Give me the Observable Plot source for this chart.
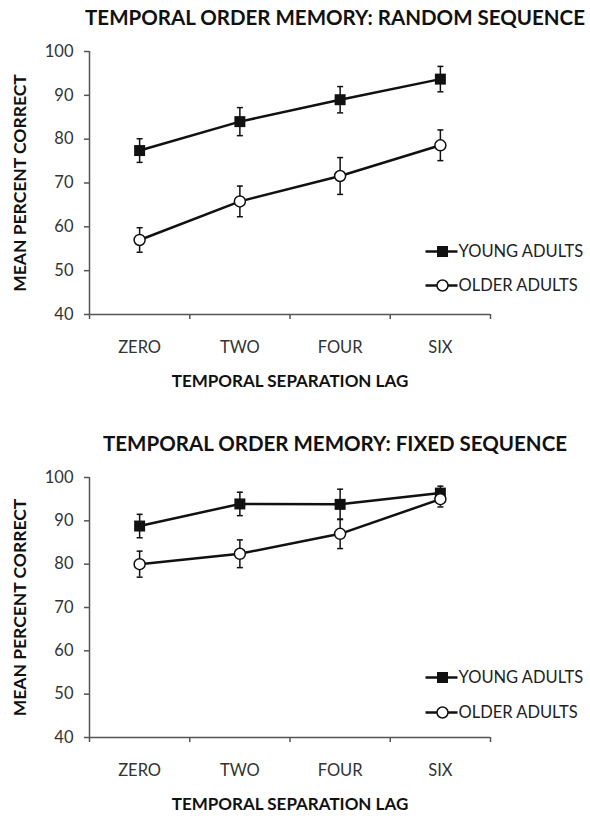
<!DOCTYPE html>
<html><head><meta charset="utf-8">
<script src="https://cdn.jsdelivr.net/npm/d3@7"></script>
<script src="https://cdn.jsdelivr.net/npm/@observablehq/plot@0.6"></script>
<style>
html,body{margin:0;padding:0;background:#fff;}
#wrap{width:590px;}
svg{display:block;font-family:Lato,"Open Sans",sans-serif;}
</style></head>
<body><div id="wrap"></div>
<script>
const lags = ["ZERO", "TWO", "FOUR", "SIX"];
const yTicks = [40, 50, 60, 70, 80, 90, 100];
const groups = ["YOUNG ADULTS", "OLDER ADULTS"];

const randomYoung = [77.4, 84.0, 89.0, 93.7];
const randomYoungErr = [2.7, 3.2, 3.0, 2.9];
const randomOlder = [57.0, 65.8, 71.6, 78.6];
const randomOlderErr = [2.8, 3.5, 4.2, 3.5];

const fixedYoung = [88.8, 93.9, 93.8, 96.4];
const fixedYoungErr = [2.7, 2.7, 3.5, 1.6];
const fixedOlder = [80.0, 82.4, 87.0, 95.0];
const fixedOlderErr = [3.0, 3.2, 3.4, 1.8];

const titles = ["TEMPORAL ORDER MEMORY: RANDOM SEQUENCE", "TEMPORAL ORDER MEMORY: FIXED SEQUENCE"];
const xTitle = "TEMPORAL SEPARATION LAG";
const yTitle = "MEAN PERCENT CORRECT";

function hLine(halfWidth) {
  return {draw(ctx) { ctx.moveTo(-halfWidth, 0); ctx.lineTo(halfWidth, 0); }};
}
const capSymbol = hLine(3);
const legendLine = hLine(16);

function rows(young, youngErr, older, olderErr) {
  const out = [];
  lags.forEach((lag, i) => {
    out.push({lag, i, group: groups[0], value: young[i], err: youngErr[i]});
    out.push({lag, i, group: groups[1], value: older[i], err: olderErr[i]});
  });
  return out;
}

function chart(title, data, m) {
  const xv = d => d.i + 0.5;
  const young = data.filter(d => d.group === groups[0]);
  const older = data.filter(d => d.group === groups[1]);
  const axisColor = "#555";
  return Plot.plot({
    width: 590,
    height: 408,
    marginLeft: 89,
    marginRight: 100,
    marginTop: m.top,
    marginBottom: m.bottom,
    style: {fontFamily: "Lato, 'Open Sans', sans-serif", color: "#333", background: "#fff"},
    x: {domain: [0, 4]},
    y: {domain: [40, 100]},
    marks: [
      Plot.ruleX([0], {stroke: axisColor, strokeWidth: 1.5}),
      Plot.ruleY([40], {stroke: axisColor, strokeWidth: 1.5}),
      Plot.axisY({ticks: yTicks, tickSize: 5, tickPadding: 11, fontSize: 16.5, label: null, stroke: axisColor, strokeWidth: 1.5}),
      Plot.axisX({ticks: [0, 1, 2, 3, 4], tickFormat: () => "", tickSize: 5, label: null, stroke: axisColor, strokeWidth: 1.5}),
      Plot.axisX({ticks: lags.map((_, i) => i + 0.5), tickFormat: v => lags[Math.round(v - 0.5)], tickSize: 0, tickPadding: 27, fontSize: 16.5, label: null}),
      Plot.text([title], {frameAnchor: "top", lineAnchor: "middle", dy: m.titleDy, dx: 45, fontSize: 20.5, fontWeight: "bold", fill: "#111"}),
      Plot.text([xTitle], {frameAnchor: "bottom", lineAnchor: "middle", dy: m.xTitleDy, fontSize: 17, fontWeight: "bold", fill: "#111"}),
      Plot.text([yTitle], {frameAnchor: "left", lineAnchor: "middle", dx: -69, rotate: -90, textAnchor: "middle", fontSize: 17.5, fontWeight: "bold", fill: "#111"}),
      Plot.ruleX(data, {x: xv, y1: d => d.value - d.err, y2: d => d.value + d.err, stroke: "#111", strokeWidth: 1.5}),
      Plot.dot(data, {x: xv, y: d => d.value - d.err, symbol: capSymbol, stroke: "#111", strokeWidth: 1.5, fill: "none"}),
      Plot.dot(data, {x: xv, y: d => d.value + d.err, symbol: capSymbol, stroke: "#111", strokeWidth: 1.5, fill: "none"}),
      Plot.line(data, {x: xv, y: "value", z: "group", stroke: "#111", strokeWidth: 2.5}),
      Plot.dot(young, {x: xv, y: "value", symbol: "square", r: 6.2, fill: "#111", stroke: "none"}),
      Plot.dot(older, {x: xv, y: "value", symbol: "circle", r: 5.5, fill: "#fff", stroke: "#111", strokeWidth: 1.5}),
      // legend
      Plot.dot([groups[0]], {frameAnchor: "bottom-right", dx: -49, dy: m.legDy1, symbol: legendLine, stroke: "#111", strokeWidth: 2.5, fill: "none"}),
      Plot.dot([groups[1]], {frameAnchor: "bottom-right", dx: -49, dy: m.legDy2, symbol: legendLine, stroke: "#111", strokeWidth: 2.5, fill: "none"}),
      Plot.dot([groups[0]], {frameAnchor: "bottom-right", dx: -48, dy: m.legDy1, symbol: "square", r: 6.2, fill: "#111"}),
      Plot.dot([groups[1]], {frameAnchor: "bottom-right", dx: -48, dy: m.legDy2, symbol: "circle", r: 5.5, fill: "#fff", stroke: "#111", strokeWidth: 1.5}),
      Plot.text([groups[0]], {frameAnchor: "bottom-right", lineAnchor: "middle", textAnchor: "start", dx: -32, dy: m.legDy1, fontSize: 16.5, fill: "#222"}),
      Plot.text([groups[1]], {frameAnchor: "bottom-right", lineAnchor: "middle", textAnchor: "start", dx: -32, dy: m.legDy2, fontSize: 16.5, fill: "#222"})
    ]
  });
}

const wrap = document.getElementById("wrap");
wrap.appendChild(chart(titles[0], rows(randomYoung, randomYoungErr, randomOlder, randomOlderErr),
  {top: 51, bottom: 94, titleDy: -33, xTitleDy: 67, legDy1: -63, legDy2: -29}));
wrap.appendChild(chart(titles[1], rows(fixedYoung, fixedYoungErr, fixedOlder, fixedOlderErr),
  {top: 69, bottom: 79, titleDy: -33, xTitleDy: 67, legDy1: -60, legDy2: -25}));
</script>
</body></html>
